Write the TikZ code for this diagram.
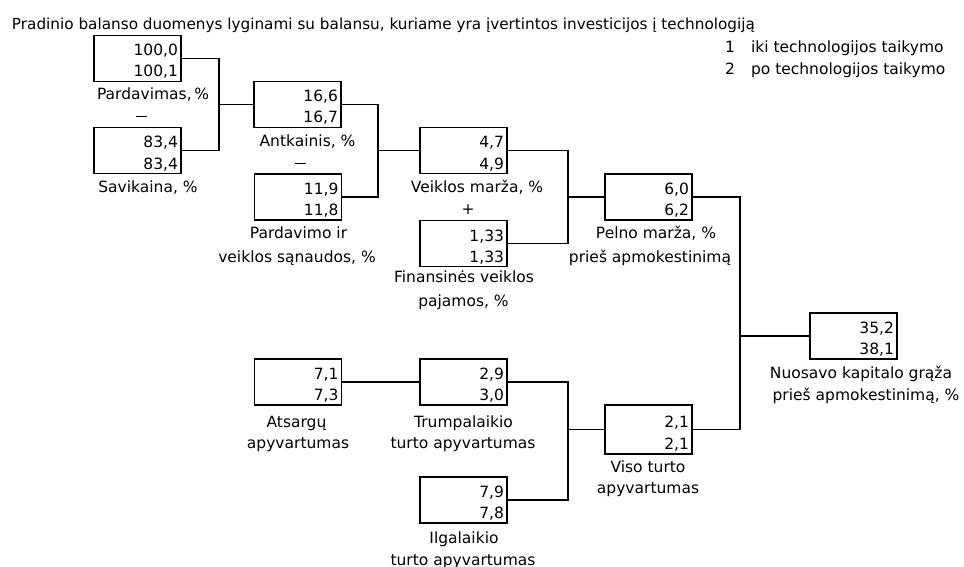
\documentclass[tikz,border=0pt]{standalone}
\usepackage{fontspec}
\setmainfont{DejaVu Sans}
\usetikzlibrary{calc}
\begin{document}
\begin{tikzpicture}[x=1pt,y=-1pt,
  every node/.style={font=\fontsize{15.5}{23}\selectfont, inner sep=0pt, outer sep=0pt},
  valbox/.style={draw, line width=1.1pt, minimum width=87pt, minimum height=46pt},
  num/.style={anchor=base east},
  lbl/.style={anchor=base},
  conn/.style={line width=1.1pt}]
\useasboundingbox (0,0) rectangle (964,567);

% title and legend
\node[anchor=base west, font=\fontsize{15.25}{23}\selectfont] (title) at (12,30) {Pradinio balanso duomenys lyginami su balansu, kuriame yra įvertintos investicijos į technologiją};
\node[anchor=base] (leg1n) at (730,53) {1};
\node[anchor=base west] (leg1t) at (751,53) {iki technologijos taikymo};
\node[anchor=base] (leg2n) at (730,75) {2};
\node[anchor=base west] (leg2t) at (751,75) {po technologijos taikymo};

% boxes
\node[valbox] (pard) at (137.5,58.5) {};
\node[valbox] (savi) at (137.5,150.5) {};
\node[valbox] (anti) at (297.5,104.5) {};
\node[valbox] (psan) at (298,197) {};
\node[valbox] (veik) at (463.5,150.5) {};
\node[valbox] (fin) at (463.5,243.5) {};
\node[valbox] (peln) at (648.5,197) {};
\node[valbox] (nuos) at (853.5,336) {};
\node[valbox] (atsa) at (298,382) {};
\node[valbox] (trum) at (463.5,382) {};
\node[valbox, minimum height=49pt] (viso) at (648.5,429.5) {};
\node[valbox] (ilga) at (463.5,500) {};

% values
\node[num] (pard1) at ($(pard.north east)+(-3,20.5)$) {100,0};
\node[num] (pard2) at ($(pard.north east)+(-3,41.5)$) {100,1};
\node[num] (savi1) at ($(savi.north east)+(-3,20.5)$) {83,4};
\node[num] (savi2) at ($(savi.north east)+(-3,41.5)$) {83,4};
\node[num] (anti1) at ($(anti.north east)+(-3,20.5)$) {16,6};
\node[num] (anti2) at ($(anti.north east)+(-3,41.5)$) {16,7};
\node[num] (psan1) at ($(psan.north east)+(-3,20.5)$) {11,9};
\node[num] (psan2) at ($(psan.north east)+(-3,41.5)$) {11,8};
\node[num] (veik1) at ($(veik.north east)+(-3,20.5)$) {4,7};
\node[num] (veik2) at ($(veik.north east)+(-3,41.5)$) {4,9};
\node[num] (fin1) at ($(fin.north east)+(-3,20.5)$) {1,33};
\node[num] (fin2) at ($(fin.north east)+(-3,41.5)$) {1,33};
\node[num] (peln1) at ($(peln.north east)+(-3,20.5)$) {6,0};
\node[num] (peln2) at ($(peln.north east)+(-3,41.5)$) {6,2};
\node[num] (nuos1) at ($(nuos.north east)+(-3,20.5)$) {35,2};
\node[num] (nuos2) at ($(nuos.north east)+(-3,41.5)$) {38,1};
\node[num] (atsa1) at ($(atsa.north east)+(-3,20.5)$) {7,1};
\node[num] (atsa2) at ($(atsa.north east)+(-3,41.5)$) {7,3};
\node[num] (trum1) at ($(trum.north east)+(-3,20.5)$) {2,9};
\node[num] (trum2) at ($(trum.north east)+(-3,41.5)$) {3,0};
\node[num] (viso1) at ($(viso.north east)+(-3,22)$) {2,1};
\node[num] (viso2) at ($(viso.north east)+(-3,44)$) {2,1};
\node[num] (ilga1) at ($(ilga.north east)+(-3,20.5)$) {7,9};
\node[num] (ilga2) at ($(ilga.north east)+(-3,41.5)$) {7,8};

% labels
\node[lbl] (pardL) at (153,100) {Pardavimas,\,\%};
\node[lbl] (minus1) at (141,121) {\rule[3.6pt]{11pt}{1.3pt}};
\node[lbl] (saviL) at (148,192) {Savikaina, \%};
\node[lbl] (antiL) at (307.5,147) {Antkainis, \%};
\node[lbl] (minus2) at (300,168) {\rule[3.6pt]{11pt}{1.3pt}};
\node[lbl] (psanL1) at (298.5,238) {Pardavimo ir};
\node[lbl] (psanL2) at (297,262) {veiklos sąnaudos, \%};
\node[lbl] (veikL) at (477,192) {Veiklos marža, \%};
\node[lbl] (plus) at (468,214) {+};
\node[lbl] (finL1) at (464,282) {Finansinės veiklos};
\node[lbl] (finL2) at (463.5,306) {pajamos, \%};
\node[lbl] (pelnL1) at (656,238) {Pelno marža, \%};
\node[lbl] (pelnL2) at (650,262) {prieš apmokestinimą};
\node[lbl] (nuosL1) at (861,378) {Nuosavo kapitalo grąža};
\node[lbl] (nuosL2) at (866,400) {prieš apmokestinimą, \%};
\node[lbl] (atsaL1) at (296.5,427) {Atsargų};
\node[lbl] (atsaL2) at (298,448) {apyvartumas};
\node[lbl] (trumL1) at (463.5,427) {Trumpalaikio};
\node[lbl] (trumL2) at (463,448) {turto apyvartumas};
\node[lbl] (visoL1) at (648,472) {Viso turto};
\node[lbl] (visoL2) at (648,493) {apyvartumas};
\node[lbl] (ilgaL1) at (464,543) {Ilgalaikio};
\node[lbl] (ilgaL2) at (463,565) {turto apyvartumas};

% junctions
\coordinate (j1) at (219,104.5);
\coordinate (j2) at (378,150.5);
\coordinate (j3) at (568,197);
\coordinate (j4) at (740,336);
\coordinate (j5) at (568,429.5);

% connectors
\draw[conn] (pard.east) -| (j1) |- (savi.east);
\draw[conn] (j1) -- (anti.west);
\draw[conn] (anti.east) -| (j2) |- (psan.east);
\draw[conn] (j2) -- (veik.west);
\draw[conn] (veik.east) -| (j3) |- (fin.east);
\draw[conn] (j3) -- (peln.west);
\draw[conn] (peln.east) -| (j4) |- (viso.east);
\draw[conn] (j4) -- (nuos.west);
\draw[conn] (atsa.east) -- (trum.west);
\draw[conn] (trum.east) -| (j5) |- (ilga.east);
\draw[conn] (j5) -- (viso.west);
\end{tikzpicture}
\end{document}
